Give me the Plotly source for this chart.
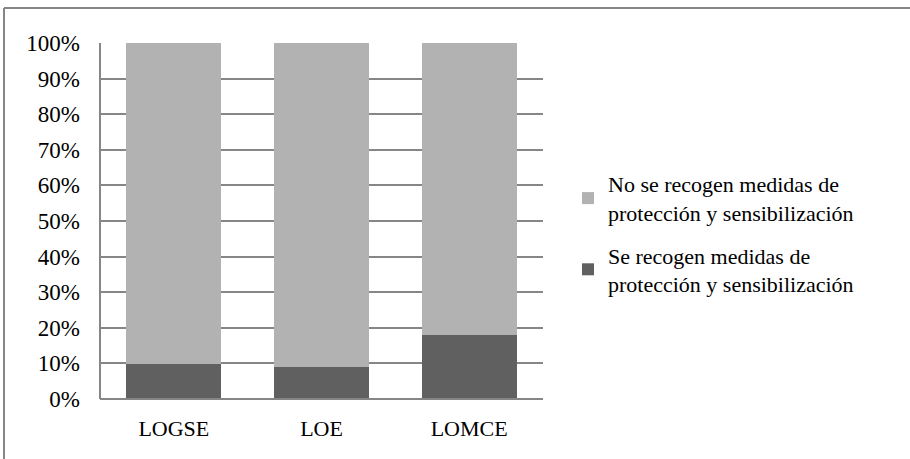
import plotly.graph_objects as go

categories = ["LOGSE", "LOE", "LOMCE"]
se_recogen = [9.7, 8.9, 18.0]
no_se_recogen = [90.3, 91.1, 82.0]
tick_vals = [0, 10, 20, 30, 40, 50, 60, 70, 80, 90, 100]
tick_text = ["0%", "10%", "20%", "30%", "40%", "50%", "60%", "70%", "80%", "90%", "100%"]

FONT = "Liberation Serif"

fig = go.Figure()
fig.add_trace(go.Bar(
    x=categories, y=se_recogen,
    name="Se recogen medidas de<br>protección y sensibilización",
    marker=dict(color="#606060", line=dict(width=0)),
    legendgroup="b", legendrank=2,
))
fig.add_trace(go.Bar(
    x=categories, y=no_se_recogen,
    name="No se recogen medidas de<br>protección y sensibilización",
    marker=dict(color="#b2b2b2", line=dict(width=0)),
    legendgroup="a", legendrank=1,
))

W, H = 910, 459
L, R, T, B = 100, 367, 43, 60
pw, ph = W - L - R, H - T - B

fig.update_layout(
    width=W, height=H,
    barmode="stack",
    bargap=0.357,
    paper_bgcolor="white",
    plot_bgcolor="white",
    margin=dict(l=L, r=R, t=T, b=B, pad=0, autoexpand=False),
    font=dict(family=FONT, size=22, color="black"),
    xaxis=dict(
        showgrid=False, showline=False, ticks="",
        tickfont=dict(family=FONT, size=22), ticklabelstandoff=14,
    ),
    yaxis=dict(
        range=[0, 100], tickvals=tick_vals, ticktext=tick_text,
        showgrid=True, gridcolor="#868686", gridwidth=2,
        showline=False, zeroline=False, ticks="",
        tickfont=dict(family=FONT, size=23), ticklabelstandoff=19,
    ),
    legend=dict(
        x=(568 - L) / pw, xanchor="left",
        y=1 - (234 - T) / ph, yanchor="middle",
        traceorder="grouped",
        tracegroupgap=11,
        font=dict(family=FONT, size=22),
        itemwidth=30,
        bgcolor="rgba(0,0,0,0)",
    ),
    showlegend=True,
)

# axis lines and outer frame (left & top edges visible)
fig.add_shape(type="line", xref="paper", yref="paper", x0=0, x1=0, y0=0, y1=1,
              line=dict(color="#868686", width=2), layer="above")
fig.add_shape(type="line", xref="paper", yref="paper", x0=0, x1=1, y0=0, y1=0,
              line=dict(color="#868686", width=2), layer="above")
fig.add_shape(type="line", xref="paper", yref="paper",
              x0=(4 - L) / pw, x1=(915 - L) / pw, y0=1 + (T - 8) / ph, y1=1 + (T - 8) / ph,
              line=dict(color="#868686", width=2))
fig.add_shape(type="line", xref="paper", yref="paper",
              x0=(4 - L) / pw, x1=(4 - L) / pw, y0=1 + (T - 8) / ph, y1=-(70) / ph,
              line=dict(color="#868686", width=2))

fig.write_html("out.html", config={"displayModeBar": False},
               post_script="document.body.style.margin='0';")
